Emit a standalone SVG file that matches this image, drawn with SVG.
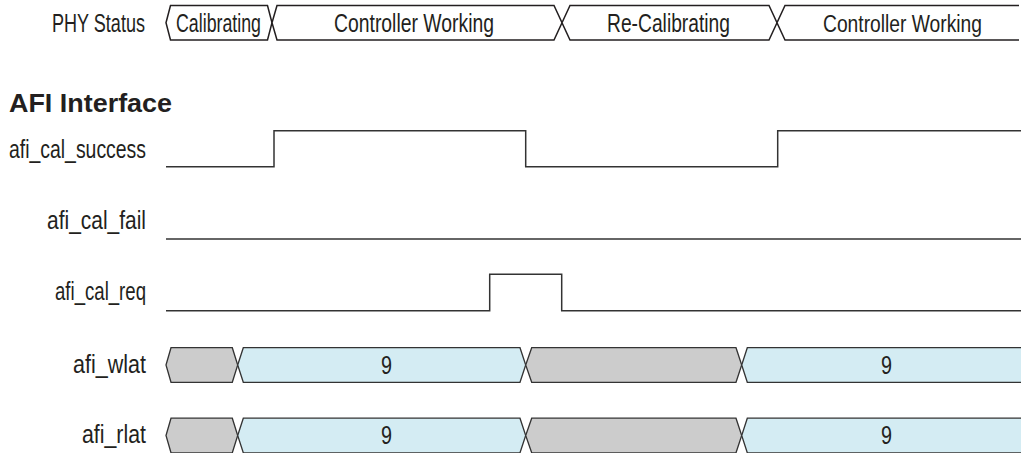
<svg xmlns="http://www.w3.org/2000/svg" width="1021" height="453" viewBox="0 0 1021 453">
<style>
text{font-family:"Liberation Sans Narrow","Liberation Sans","DejaVu Sans Condensed",sans-serif;font-size:25px;fill:#231f20}
.title{font-weight:bold;font-size:26px}
.mid{text-anchor:middle}
.st{fill:#fff;stroke:#231f20;stroke-width:1.5;stroke-linejoin:miter}
.wave{fill:none;stroke:#333;stroke-width:1.5}
.grey{fill:#cccccc;stroke:#333;stroke-width:1.3}
.blue{fill:#d4ecf3;stroke:#333;stroke-width:1.3}
</style>
<rect width="1021" height="453" fill="#fff"/>
<g id="phy_status">
<text x="52" y="32" textLength="93" lengthAdjust="spacingAndGlyphs">PHY Status</text>
<polygon class="st" points="166,22.75 170.5,5.5 267.5,5.5 272,22.75 267.5,40 170.5,40"/>
<polygon class="st" points="272,22.75 277,5.5 554,5.5 562,22.75 554,40 277,40"/>
<polygon class="st" points="562,22.75 570,5.5 769,5.5 777,22.75 769,40 570,40"/>
<path class="st" d="M1019,5.5 H785 L777,22.75 L785,40 H1019"/>
<text class="mid" x="218.5" y="32" textLength="85" lengthAdjust="spacingAndGlyphs">Calibrating</text>
<text class="mid" x="414" y="32" textLength="160" lengthAdjust="spacingAndGlyphs">Controller Working</text>
<text class="mid" x="668.5" y="32" textLength="123" lengthAdjust="spacingAndGlyphs">Re-Calibrating</text>
<text x="823" y="32" style="font-size:23px" textLength="159" lengthAdjust="spacingAndGlyphs">Controller Working</text>
</g>
<g id="afi_title">
<text class="title" x="9" y="112" textLength="163" lengthAdjust="spacingAndGlyphs">AFI Interface</text>
</g>
<g id="afi_cal_success">
<text x="9" y="158" textLength="137" lengthAdjust="spacingAndGlyphs">afi_cal_success</text>
<path class="wave" d="M166,166.7 H274 V130.7 H525.7 V166.7 H777.7 V130.7 H1021"/>
</g>
<g id="afi_cal_fail">
<text x="47" y="229" textLength="99" lengthAdjust="spacingAndGlyphs">afi_cal_fail</text>
<path class="wave" d="M166,239 H1021"/>
</g>
<g id="afi_cal_req">
<text x="55" y="300" textLength="91" lengthAdjust="spacingAndGlyphs">afi_cal_req</text>
<path class="wave" d="M166,310.7 H489.7 V274.3 H561.7 V310.7 H1021"/>
</g>
<g id="afi_wlat">
<text x="73" y="373" textLength="73" lengthAdjust="spacingAndGlyphs">afi_wlat</text>
<polygon class="grey" points="166,365 171,347.7 232.3,347.7 237.7,365 232.3,382.3 171,382.3"/>
<polygon class="blue" points="237.7,365 243.3,347.7 520,347.7 525.7,365 520,382.3 243.3,382.3"/>
<polygon class="grey" points="525.7,365 531.7,347.7 736,347.7 741.7,365 736,382.3 531.7,382.3"/>
<path class="blue" d="M1021,347.7 H747.3 L741.7,365 L747.3,382.3 H1021"/>
<text x="381" y="374" textLength="11" lengthAdjust="spacingAndGlyphs">9</text>
<text x="881" y="374" textLength="11" lengthAdjust="spacingAndGlyphs">9</text>
</g>
<g id="afi_rlat">
<text x="82" y="443" textLength="64" lengthAdjust="spacingAndGlyphs">afi_rlat</text>
<polygon class="grey" points="166,435.5 171,418.2 232.3,418.2 237.7,435.5 232.3,452.8 171,452.8"/>
<polygon class="blue" points="237.7,435.5 243.3,418.2 520,418.2 525.7,435.5 520,452.8 243.3,452.8"/>
<polygon class="grey" points="525.7,435.5 531.7,418.2 736,418.2 741.7,435.5 736,452.8 531.7,452.8"/>
<path class="blue" d="M1021,418.2 H747.3 L741.7,435.5 L747.3,452.8 H1021"/>
<text x="381" y="444" textLength="11" lengthAdjust="spacingAndGlyphs">9</text>
<text x="881" y="444" textLength="11" lengthAdjust="spacingAndGlyphs">9</text>
</g>
</svg>
